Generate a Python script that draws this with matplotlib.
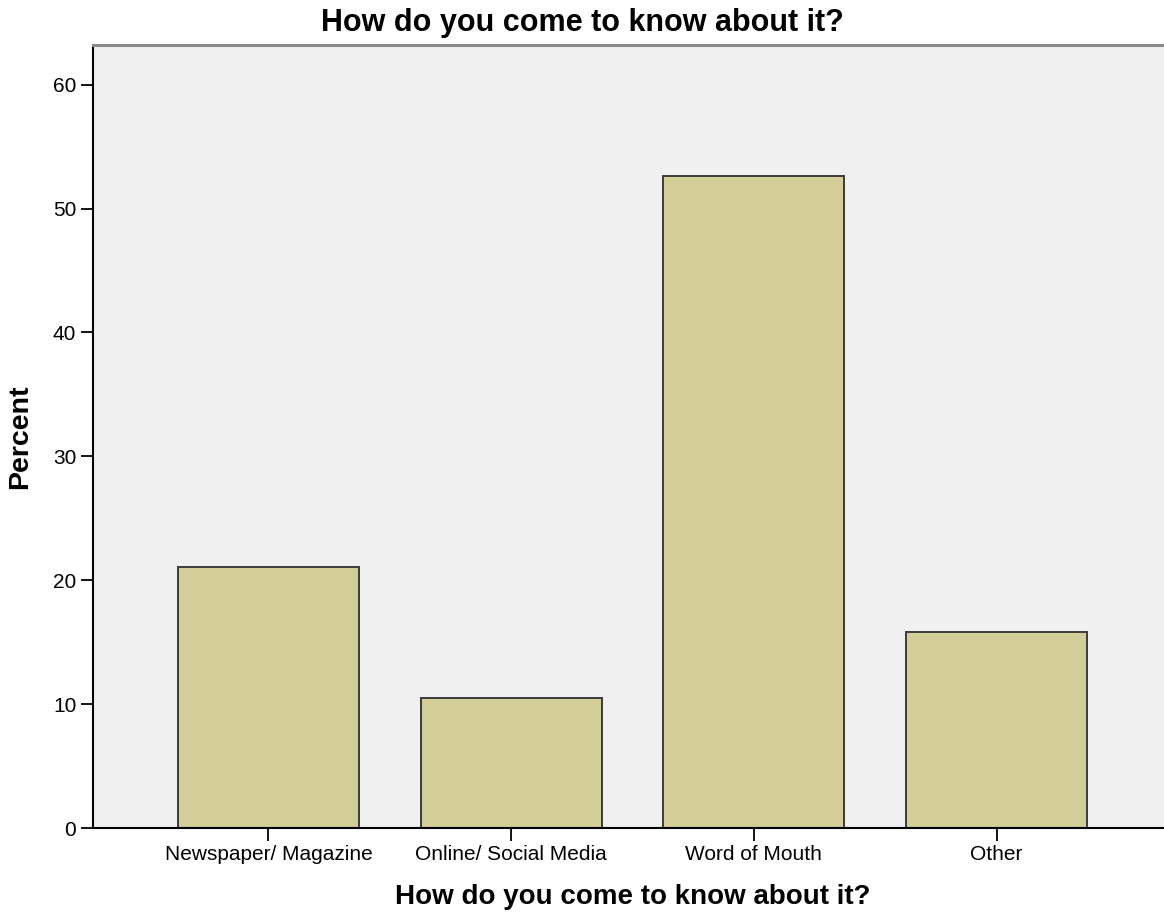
import matplotlib.pyplot as plt
import numpy as np

categories = ['Newspaper/ Magazine', 'Online/ Social Media', 'Word of Mouth', 'Other']
percent = [21.1, 10.5, 52.6, 15.8]
yticks = [0, 10, 20, 30, 40, 50, 60]
title = 'How do you come to know about it?'

plt.rcParams['font.family'] = ['Liberation Sans', 'DejaVu Sans']

fig = plt.figure(figsize=(11.64, 9.19), dpi=100)
# axes runs off the right edge like the original export
ax = fig.add_axes([93 / 1164, 91 / 919, 1079 / 1164, 783 / 919])
ax.set_facecolor('#f0f0f0')

x = np.arange(len(categories))
ax.bar(x, percent, width=0.745, color='#d3cd97', edgecolor='#3c3c3c', linewidth=1.4, zorder=2)

ax.set_xlim(-0.723, 3.723)
ax.set_ylim(0, 63.2)
ax.set_xticks(x)
ax.set_xticklabels(categories, fontsize=15)
ax.set_yticks(yticks)
ax.set_yticklabels([str(t) for t in yticks], fontsize=15)
ax.tick_params(axis='both', length=9, width=1.3, color='black', pad=3)

for s in ['left', 'bottom']:
    ax.spines[s].set_color('black')
    ax.spines[s].set_linewidth(1.5)
ax.spines['top'].set_color('#8a8a8a')
ax.spines['top'].set_linewidth(2.2)
ax.spines['right'].set_visible(False)

ax.set_xlabel(title, fontsize=20, fontweight='bold', labelpad=15)
ax.set_ylabel('Percent', fontsize=20.5, fontweight='bold')
ax.yaxis.set_label_coords(-0.0556, 0.5)
fig.text(0.5, 1 - 23 / 919, title, ha='center', va='center', fontsize=22, fontweight='bold')

fig.savefig('out.png', dpi=100)
